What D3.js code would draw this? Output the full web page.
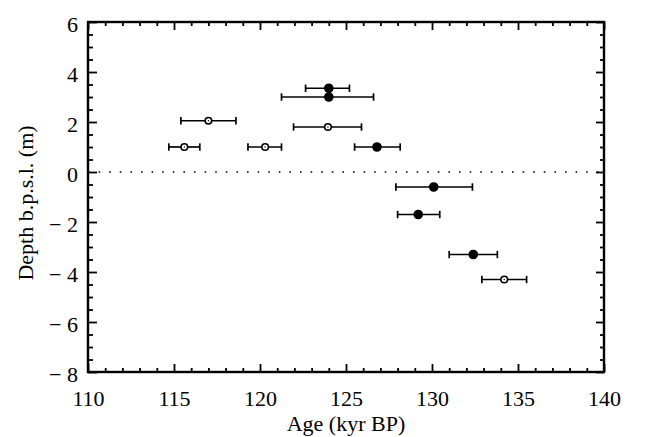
<!DOCTYPE html>
<html>
<head>
<meta charset="utf-8">
<script src="https://cdn.jsdelivr.net/npm/d3@7"></script>
<style>
  body { margin: 0; background: #fff; }
</style>
</head>
<body>
<div id="chart"></div>
<script>
// Filled circles: age (kyr BP), depth (m), error bar ends
const filledAge   = [124.0, 124.0, 126.8, 130.1, 129.2, 132.4];
const filledDepth = [3.35, 3.0, 1.0, -0.6, -1.7, -3.3];
const filledLow   = [122.65, 121.25, 125.5, 127.9, 128.0, 131.0];
const filledHigh  = [125.2, 126.6, 128.15, 132.35, 130.45, 133.8];

// Open circles
const openAge   = [117.0, 123.95, 115.6, 120.3, 134.2];
const openDepth = [2.05, 1.8, 1.0, 1.0, -4.3];
const openLow   = [115.4, 121.95, 114.7, 119.3, 132.9];
const openHigh  = [118.6, 125.9, 116.5, 121.25, 135.5];

const xTicks = [110, 115, 120, 125, 130, 135, 140];
const yTicks = [6, 4, 2, 0, -2, -4, -6, -8];

const FONT = '"Liberation Serif", "Times New Roman", serif';
const width = 655, height = 437;
const margin = {top: 22, right: 51, bottom: 65, left: 88};

const svg = d3.select("#chart")
    .append("svg")
    .attr("width", width)
    .attr("height", height);

const x = d3.scaleLinear().domain([110, 140]).range([margin.left, width - margin.right]);
const y = d3.scaleLinear().domain([-8, 6]).range([height - margin.bottom, margin.top]);

const minorX = d3.range(110, 141, 1).filter(v => v % 5 !== 0);
const minorY = d3.range(-8, 6.01, 0.5).filter(v => v % 2 !== 0);

function fmtY(d) {
    return d < 0 ? "\u2212 " + Math.abs(d) : String(d);
}

// zero line
svg.append("line")
    .attr("x1", x(110)).attr("x2", x(140))
    .attr("y1", y(0)).attr("y2", y(0))
    .attr("stroke", "#000")
    .attr("stroke-width", 1.6)
    .attr("stroke-dasharray", "1.6,9");

// axes, ticks inward on all four sides
function styleAxis(g) {
    g.attr("font-family", FONT);
    g.select(".domain").remove();
    g.selectAll(".tick line").attr("stroke", "#000").attr("stroke-width", 1.8);
    g.selectAll(".tick text").attr("fill", "#000").style("font-family", FONT).style("font-size", "22px");
}

svg.append("g")
    .attr("transform", `translate(0,${y(-8)})`)
    .call(d3.axisBottom(x).tickValues(xTicks).tickSize(-8).tickPadding(18).tickFormat(d3.format("d")))
    .call(styleAxis);
svg.append("g")
    .attr("transform", `translate(0,${y(-8)})`)
    .call(d3.axisBottom(x).tickValues(minorX).tickSize(-4).tickFormat(""))
    .call(styleAxis);
svg.append("g")
    .attr("transform", `translate(0,${y(6)})`)
    .call(d3.axisTop(x).tickValues(xTicks).tickSize(-8).tickFormat(""))
    .call(styleAxis);
svg.append("g")
    .attr("transform", `translate(0,${y(6)})`)
    .call(d3.axisTop(x).tickValues(minorX).tickSize(-4).tickFormat(""))
    .call(styleAxis);

svg.append("g")
    .attr("transform", `translate(${x(110)},0)`)
    .call(d3.axisLeft(y).tickValues(yTicks).tickSize(-9).tickPadding(10).tickFormat(fmtY))
    .call(styleAxis)
    .selectAll("text").attr("dy", "0.42em");
svg.append("g")
    .attr("transform", `translate(${x(110)},0)`)
    .call(d3.axisLeft(y).tickValues(minorY).tickSize(-5).tickFormat(""))
    .call(styleAxis);
svg.append("g")
    .attr("transform", `translate(${x(140)},0)`)
    .call(d3.axisRight(y).tickValues(yTicks).tickSize(-8).tickFormat(""))
    .call(styleAxis);
svg.append("g")
    .attr("transform", `translate(${x(140)},0)`)
    .call(d3.axisRight(y).tickValues(minorY).tickSize(-4).tickFormat(""))
    .call(styleAxis);

// frame
svg.append("rect")
    .attr("x", x(110)).attr("y", y(6))
    .attr("width", x(140) - x(110)).attr("height", y(-8) - y(6))
    .attr("fill", "none").attr("stroke", "#000").attr("stroke-width", 2.4);

// axis titles
svg.append("text")
    .attr("x", (x(110) + x(140)) / 2)
    .attr("y", 431)
    .attr("text-anchor", "middle")
    .style("font-family", FONT)
    .style("font-size", "22px")
    .text("Age (kyr BP)");

svg.append("text")
    .attr("transform", `translate(33,${(y(6) + y(-8)) / 2 + 6}) rotate(-90)`)
    .attr("text-anchor", "middle")
    .style("font-family", FONT)
    .style("font-size", "22px")
    .text("Depth b.p.s.l. (m)");

// error bars + markers
function drawSeries(ages, depths, lows, highs, filled) {
    const pts = ages.map((a, i) => ({age: a, depth: depths[i], lo: lows[i], hi: highs[i]}));
    const g = svg.append("g");
    const bar = g.selectAll(".bar").data(pts).enter().append("g").attr("class", "bar");
    bar.append("line")
        .attr("x1", d => x(d.lo)).attr("x2", d => x(d.hi))
        .attr("y1", d => y(d.depth)).attr("y2", d => y(d.depth))
        .attr("stroke", "#000").attr("stroke-width", 1.7);
    bar.append("line")
        .attr("x1", d => x(d.lo)).attr("x2", d => x(d.lo))
        .attr("y1", d => y(d.depth) - 3.7).attr("y2", d => y(d.depth) + 3.7)
        .attr("stroke", "#000").attr("stroke-width", 1.7);
    bar.append("line")
        .attr("x1", d => x(d.hi)).attr("x2", d => x(d.hi))
        .attr("y1", d => y(d.depth) - 3.7).attr("y2", d => y(d.depth) + 3.7)
        .attr("stroke", "#000").attr("stroke-width", 1.7);
    bar.append("circle")
        .attr("cx", d => x(d.age)).attr("cy", d => y(d.depth))
        .attr("r", filled ? 4 : 3.3)
        .attr("fill", filled ? "#000" : "#fff")
        .attr("stroke", "#000").attr("stroke-width", 1.6);
    if (!filled) {
        bar.append("circle")
            .attr("cx", d => x(d.age)).attr("cy", d => y(d.depth))
            .attr("r", 0.7).attr("fill", "#000");
    }
}

drawSeries(openAge, openDepth, openLow, openHigh, false);
drawSeries(filledAge, filledDepth, filledLow, filledHigh, true);
</script>
</body>
</html>
